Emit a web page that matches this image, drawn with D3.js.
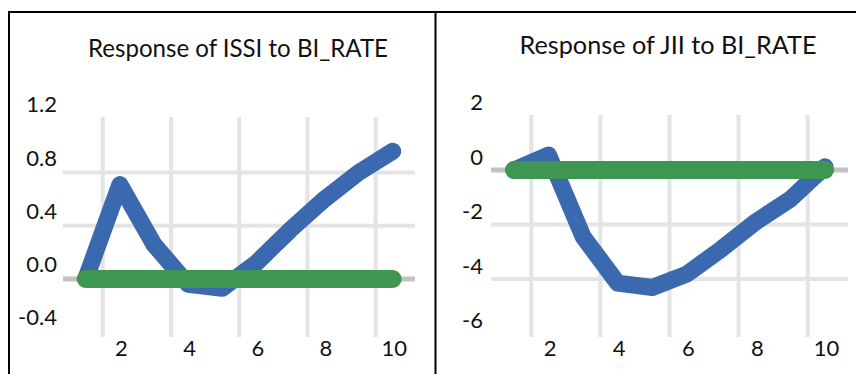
<!DOCTYPE html>
<html>
<head>
<meta charset="utf-8">
<script src="https://cdn.jsdelivr.net/npm/d3@7"></script>
<style>
  html, body { margin: 0; padding: 0; background: #fff; }
  svg { display: block; }
  text { font-family: Lato, "Open Sans", sans-serif; fill: #111; }
</style>
</head>
<body>
<svg id="chart" width="856" height="374"></svg>
<script>
// Impulse response periods
const periods = [1, 2, 3, 4, 5, 6, 7, 8, 9, 10];

// Response of ISSI to a BI_RATE shock
const issiResponse = [0, 0.71, 0.26, -0.04, -0.07, 0.12, 0.37, 0.60, 0.80, 0.96];
// Response of JII to a BI_RATE shock
const jiiResponse = [0, 0.55, -2.45, -4.15, -4.31, -3.82, -2.9, -1.9, -1.07, 0.12];
// Zero reference line
const zeroLine = [0, 0, 0, 0, 0, 0, 0, 0, 0, 0];

const issiTicks = [-0.4, 0, 0.4, 0.8, 1.2];
const jiiTicks = [-6, -4, -2, 0, 2];
const periodTicks = [2, 4, 6, 8, 10];

const titles = ["Response of ISSI to BI_RATE", "Response of JII to BI_RATE"];

const BLUE = "#3b69b0";
const GREEN = "#3e9650";
const GRID = "#e4e4e4";
const AXIS = "#c2c2c2";

// plain hyphen for negative numbers
const hyphenFmt = spec => { const f = d3.format(spec); return v => f(v).replace("\u2212", "-"); };

const svg = d3.select("#chart");

const panels = [
  {
    title: titles[0], titleX: 238, titleY: 56.5, titleLen: 300,
    values: issiResponse, ticks: issiTicks, fmt: hyphenFmt(".1f"),
    xRange: [85.7, 392.7], yRange: [332.2, 119.4],
    gridX: [63, 415], plotTop: 117, plotBottom: 337,
    labelRight: 57, labelShift: -14.5
  },
  {
    title: titles[1], titleX: 668, titleY: 53.5, titleLen: 297,
    values: jiiResponse, ticks: jiiTicks, fmt: hyphenFmt("d"),
    xRange: [514, 825], yRange: [333.5, 115.5],
    gridX: [491, 848], plotTop: 115, plotBottom: 337,
    labelRight: 483, labelShift: -13
  }
];

panels.forEach(p => {
  const g = svg.append("g");
  const x = d3.scaleLinear().domain([periods[0], periods[periods.length - 1]]).range(p.xRange);
  const y = d3.scaleLinear().domain([p.ticks[0], p.ticks[p.ticks.length - 1]]).range(p.yRange);

  // vertical gridlines sit between periods
  g.selectAll(".vgrid").data(periodTicks).join("line")
    .attr("x1", d => x(d - 0.5)).attr("x2", d => x(d - 0.5))
    .attr("y1", p.plotTop).attr("y2", p.plotBottom)
    .attr("stroke", GRID).attr("stroke-width", 4);

  // horizontal gridlines at the inner non-zero ticks
  const inner = p.ticks.slice(1, -1).filter(t => t !== 0);
  g.selectAll(".hgrid").data(inner).join("line")
    .attr("x1", p.gridX[0]).attr("x2", p.gridX[1])
    .attr("y1", d => y(d)).attr("y2", d => y(d))
    .attr("stroke", GRID).attr("stroke-width", 4);

  // zero axis
  g.append("line")
    .attr("x1", p.gridX[0]).attr("x2", p.gridX[1])
    .attr("y1", y(0)).attr("y2", y(0))
    .attr("stroke", AXIS).attr("stroke-width", 5);

  // y axis labels
  const ya = g.append("g")
    .attr("transform", `translate(${p.labelRight},${p.labelShift})`)
    .call(d3.axisLeft(y).tickValues(p.ticks).tickSize(0).tickPadding(0).tickFormat(p.fmt));
  ya.select(".domain").remove();
  ya.selectAll("text").attr("font-size", 22).attr("font-family", "Lato, sans-serif").attr("fill", "#111");

  // x axis labels
  const xa = g.append("g")
    .attr("transform", `translate(1,348)`)
    .call(d3.axisBottom(x).tickValues(periodTicks).tickSize(0).tickPadding(0).tickFormat(d3.format("d")));
  xa.select(".domain").remove();
  xa.selectAll("text").attr("y", 0).attr("dy", "0.35em")
    .attr("font-size", 22).attr("font-family", "Lato, sans-serif").attr("fill", "#111");

  const line = d3.line().x((d, i) => x(periods[i])).y(d => y(d));

  g.append("path").datum(p.values)
    .attr("d", line).attr("fill", "none")
    .attr("stroke", BLUE).attr("stroke-width", 17)
    .attr("stroke-linejoin", "round").attr("stroke-linecap", "round");

  g.append("path").datum(zeroLine)
    .attr("d", line).attr("fill", "none")
    .attr("stroke", GREEN).attr("stroke-width", 18)
    .attr("stroke-linejoin", "round").attr("stroke-linecap", "round");

  g.append("text")
    .attr("x", p.titleX).attr("y", p.titleY)
    .attr("text-anchor", "middle")
    .attr("font-size", 25)
    .attr("textLength", p.titleLen).attr("lengthAdjust", "spacingAndGlyphs")
    .text(p.title);
});

// frame lines
svg.append("line").attr("x1", 8).attr("x2", 856).attr("y1", 12).attr("y2", 12)
  .attr("stroke", "#000").attr("stroke-width", 2);
svg.append("line").attr("x1", 9).attr("x2", 9).attr("y1", 11).attr("y2", 374)
  .attr("stroke", "#000").attr("stroke-width", 2);
svg.append("line").attr("x1", 435.5).attr("x2", 435.5).attr("y1", 11).attr("y2", 374)
  .attr("stroke", "#000").attr("stroke-width", 2);
</script>
</body>
</html>
